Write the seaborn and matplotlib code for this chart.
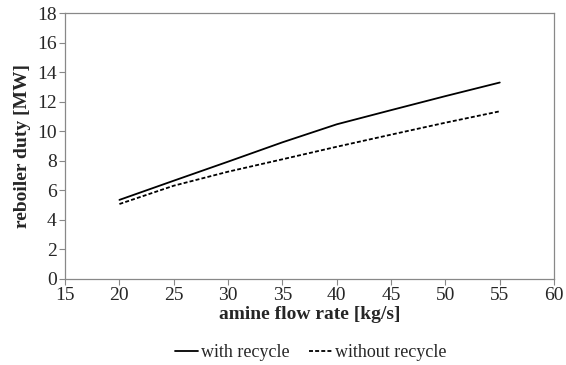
import matplotlib
matplotlib.use("Agg")
import matplotlib.pyplot as plt
from matplotlib.lines import Line2D
import seaborn as sns
import pandas as pd

flow_rate = [20, 25, 30, 35, 40, 45, 50, 55]
with_recycle = [5.35, 6.65, 7.94, 9.25, 10.47, 11.43, 12.38, 13.3]
without_recycle = [5.07, 6.31, 7.26, 8.1, 8.95, 9.77, 10.58, 11.35]

sns.set_theme(style="white")
plt.rcParams["font.family"] = ["Liberation Serif", "DejaVu Serif"]

df = pd.DataFrame({
    "flow": flow_rate * 2,
    "duty": with_recycle + without_recycle,
    "series": ["with recycle"] * len(flow_rate) + ["without recycle"] * len(flow_rate),
})

DASH = (2.2, 1.2)

fig, ax = plt.subplots(figsize=(5.66, 3.65), dpi=100)
fig.subplots_adjust(left=0.115, right=0.979, top=0.964, bottom=0.236)

sns.lineplot(data=df, x="flow", y="duty", style="series", color="black",
             dashes={"with recycle": "", "without recycle": DASH},
             linewidth=1.3, ax=ax, legend=False)

ax.set_xlim(15, 60)
ax.set_ylim(0, 18)
ax.set_xticks(range(15, 61, 5))
ax.set_yticks(range(0, 19, 2))
ax.tick_params(axis="both", labelsize=14, direction="out", length=4,
               color="#888888", width=0.8, left=True, bottom=True, pad=2)
for s in ax.spines.values():
    s.set_color("#888888")
    s.set_linewidth(0.9)

ax.set_xlabel("amine flow rate [kg/s]", fontsize=14, fontweight="bold", labelpad=1)
ax.set_ylabel("reboiler duty [MW]", fontsize=14, fontweight="bold", labelpad=4)

# legend sits below the axes, centred like the original
handles = [Line2D([], [], color="black", lw=1.3),
           Line2D([], [], color="black", lw=1.3, dashes=DASH)]
fig.legend(handles, ["with recycle", "without recycle"], loc="center",
           bbox_to_anchor=(0.549, 0.033), ncol=2, frameon=False, fontsize=13,
           handlelength=1.3, handletextpad=0.15, columnspacing=1.1)

fig.savefig("out.png", dpi=100)
